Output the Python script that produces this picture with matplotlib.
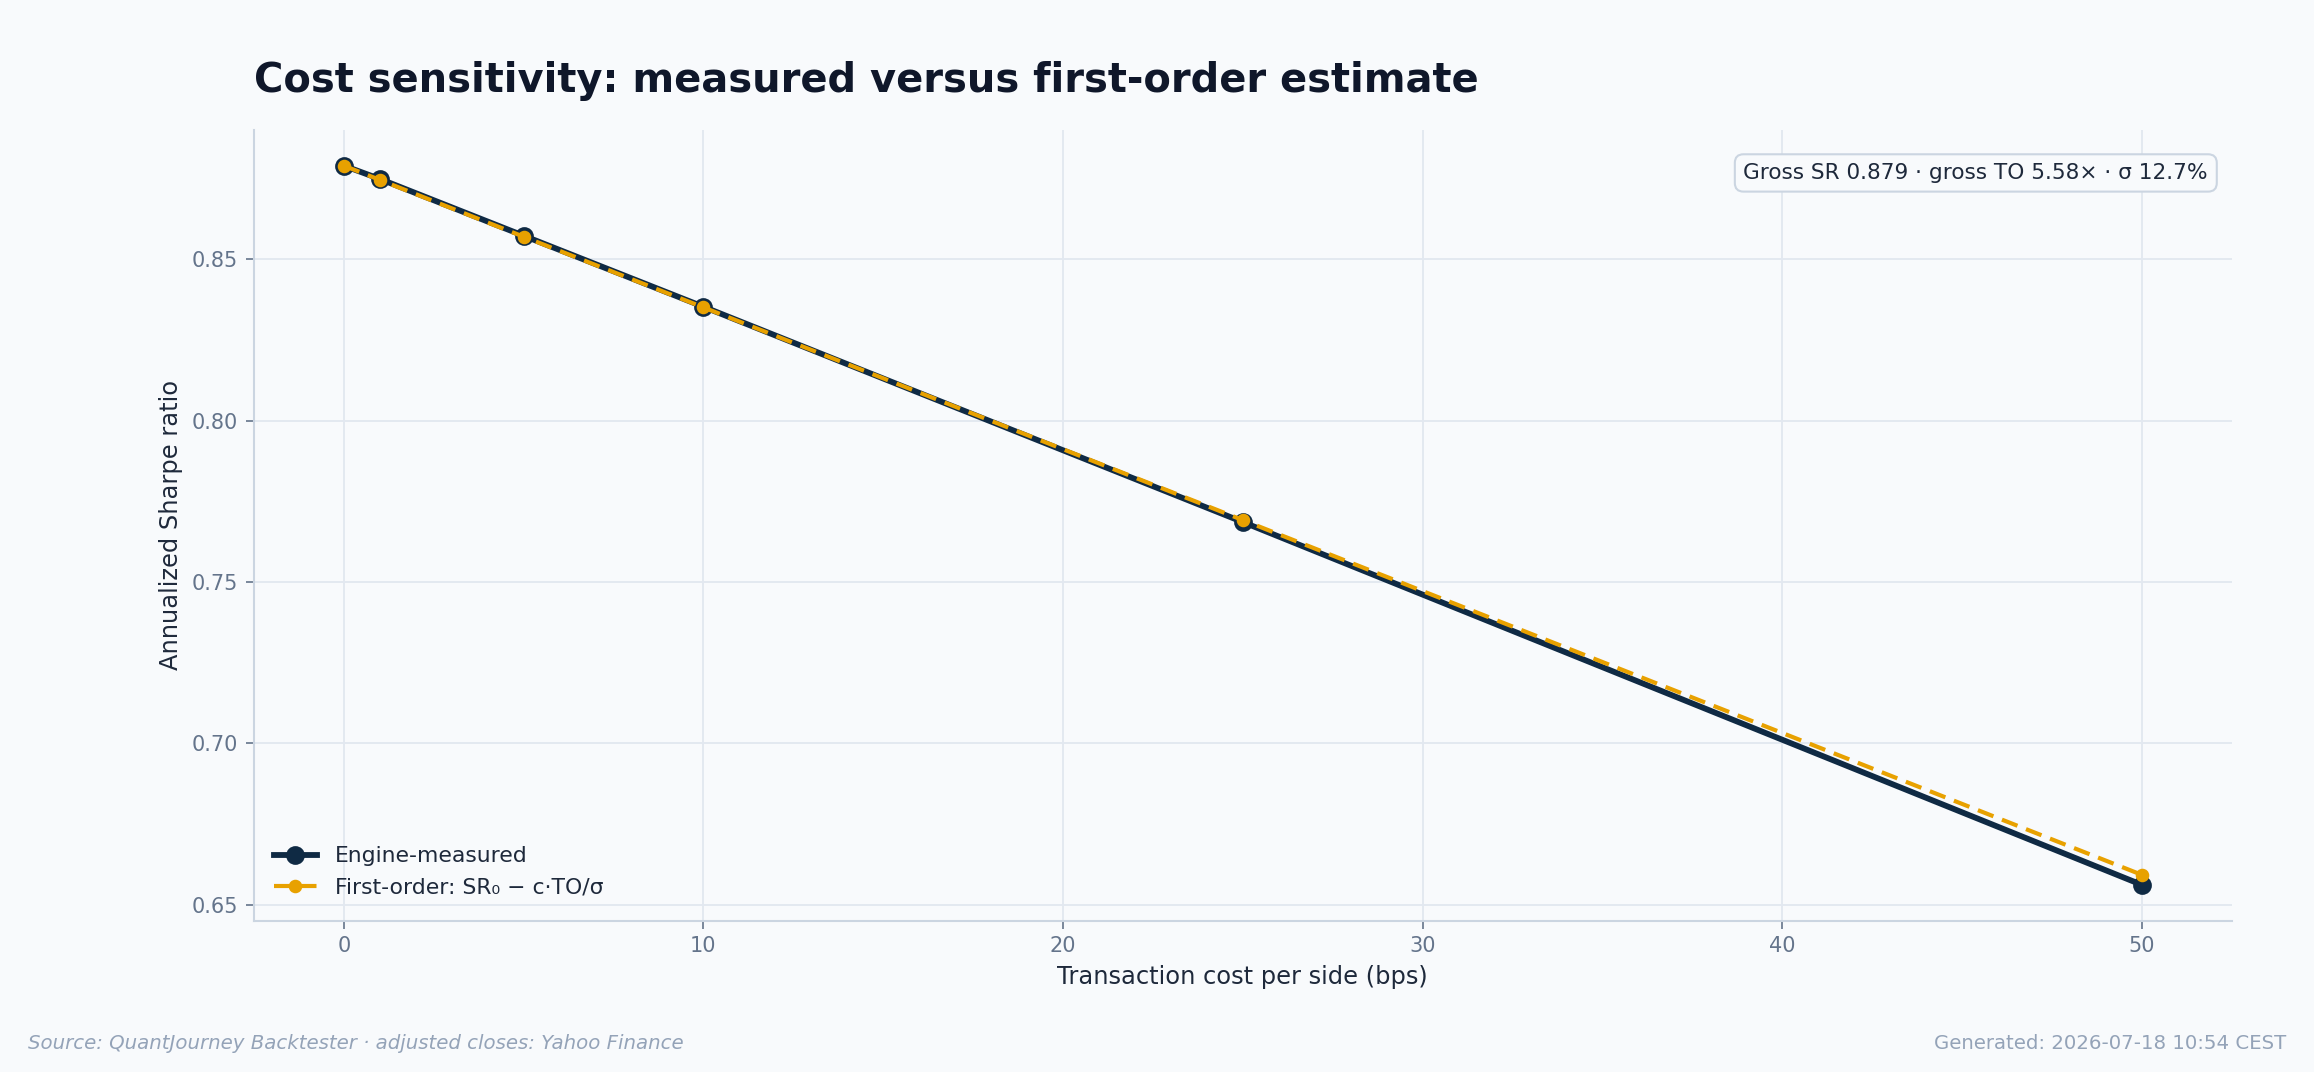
import matplotlib
matplotlib.use("Agg")
import matplotlib.pyplot as plt

cost_bps = [0, 1, 5, 10, 25, 50]
sharpe_measured = [0.879, 0.8749, 0.8573, 0.8353, 0.7686, 0.6562]
sharpe_first_order = [0.879, 0.8746, 0.8570, 0.8351, 0.7692, 0.6593]
info_text = "Gross SR 0.879 · gross TO 5.58× · σ 12.7%"

BG = "#f8fafc"
NAVY = "#0f2a44"
ORANGE = "#e8a100"
GRID = "#e2e8f0"
SPINE = "#cbd5e1"
TICK = "#64748b"
LABEL = "#1e293b"
MUTED = "#94a3b8"

fig, ax = plt.subplots(figsize=(2314 / 150, 1072 / 150), dpi=150)
fig.patch.set_facecolor(BG)
ax.set_facecolor(BG)
fig.subplots_adjust(left=0.1097, right=0.9645, top=0.879, bottom=0.141)

ax.plot(cost_bps, sharpe_measured, color=NAVY, lw=2.8, marker="o", ms=8,
        markeredgecolor=NAVY, label="Engine-measured", zorder=3)
ax.plot(cost_bps, sharpe_first_order, color=ORANGE, lw=2.0, ls=(0, (4, 2.2)),
        marker="o", ms=5.5, label="First-order: SR₀ − c·TO/σ", zorder=4)

ax.grid(True, color=GRID, lw=0.9)
ax.set_axisbelow(True)
for s in ["top", "right"]:
    ax.spines[s].set_visible(False)
for s in ["left", "bottom"]:
    ax.spines[s].set_color(SPINE)
    ax.spines[s].set_linewidth(1.0)
ax.tick_params(colors=TICK, labelsize=10, length=4)

ax.set_xlabel("Transaction cost per side (bps)", fontsize=11.6, color=LABEL)
ax.set_ylabel("Annualized Sharpe ratio", fontsize=11.6, color=LABEL)
ax.set_title("Cost sensitivity: measured versus first-order estimate",
             loc="left", fontsize=19.2, fontweight="bold", color="#0f172a", pad=18)

ax.text(0.988, 0.958, info_text, transform=ax.transAxes, ha="right", va="top",
        fontsize=10.4, color=LABEL,
        bbox=dict(boxstyle="round,pad=0.4", facecolor=BG, edgecolor=SPINE, lw=1.0))

leg = ax.legend(loc="lower left", frameon=False, fontsize=10.5,
                bbox_to_anchor=(0.0, 0.005))
for t in leg.get_texts():
    t.set_color(LABEL)

fig.text(0.012, 0.018, "Source: QuantJourney Backtester · adjusted closes: Yahoo Finance",
         fontsize=9.5, style="italic", color=MUTED, ha="left", va="bottom")
fig.text(0.988, 0.018, "Generated: 2026-07-18 10:54 CEST",
         fontsize=9.5, color=MUTED, ha="right", va="bottom")

fig.savefig("out.png", dpi=150, facecolor=BG)
